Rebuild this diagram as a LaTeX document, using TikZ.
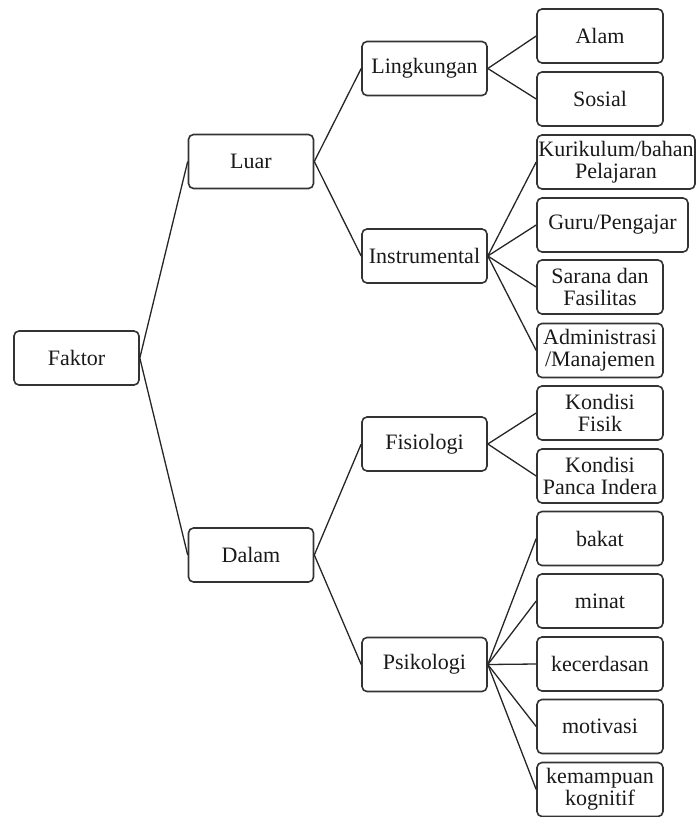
\documentclass[tikz,border=0pt]{standalone}
\usepackage{fontspec}
\setmainfont{Liberation Serif}
\begin{document}
\begin{tikzpicture}[x=1pt,y=-1pt,
 box/.style={draw=black!80, line width=1.6pt, rounded corners=5pt, minimum height=54pt, inner sep=0pt, align=center, font=\fontsize{22}{22}\selectfont, text=black!90},
 mid/.style={box, minimum width=125pt},
 leaf/.style={box, minimum width=126pt},
 link/.style={draw=black!85, line width=1.3pt}]
\useasboundingbox (0,0) rectangle (697,817);
\node[mid] (faktor) at (76.5,358) {Faktor};
\node[mid] (luar) at (251,161.5) {Luar};
\node[mid] (dalam) at (251,555) {Dalam};
\node[mid] (ling) at (424.5,68.5) {Lingkungan};
\node[mid] (instr) at (424.5,256) {Instrumental};
\node[mid] (fisio) at (424.5,444) {Fisiologi};
\node[mid] (psiko) at (424.5,664.5) {Psikologi};
\node[leaf] (alam) at (600,36) {Alam};
\node[leaf] (sosial) at (600,99) {Sosial};
\node[leaf, minimum width=158pt] (kuri) at (616,162) {Kurikulum/bahan\\Pelajaran};
\node[leaf, minimum width=151pt] (guru) at (612.5,225) {Guru/Pengajar};
\node[leaf] (sarana) at (600,287) {Sarana dan\\Fasilitas};
\node[leaf] (admin) at (600,350.5) {Administrasi\\/Manajemen};
\node[leaf] (kfisik) at (600,413) {Kondisi\\Fisik};
\node[leaf] (kpanca) at (600,476) {Kondisi\\Panca Indera};
\node[leaf] (bakat) at (600,538.5) {bakat};
\node[leaf] (minat) at (600,601) {minat};
\node[leaf] (kecer) at (600,664) {kecerdasan};
\node[leaf] (motiv) at (600,726.5) {motivasi};
\node[leaf] (kemam) at (600,789.5) {kemampuan\\kognitif};
\foreach \a/\b in {faktor/luar, faktor/dalam, luar/ling, luar/instr, dalam/fisio, dalam/psiko,
  ling/alam, ling/sosial, instr/kuri, instr/guru, instr/sarana, instr/admin,
  fisio/kfisik, fisio/kpanca, psiko/bakat, psiko/minat, psiko/kecer, psiko/motiv, psiko/kemam}
  \draw[link] (\a.east) -- (\b.west);
\end{tikzpicture}
\end{document}
